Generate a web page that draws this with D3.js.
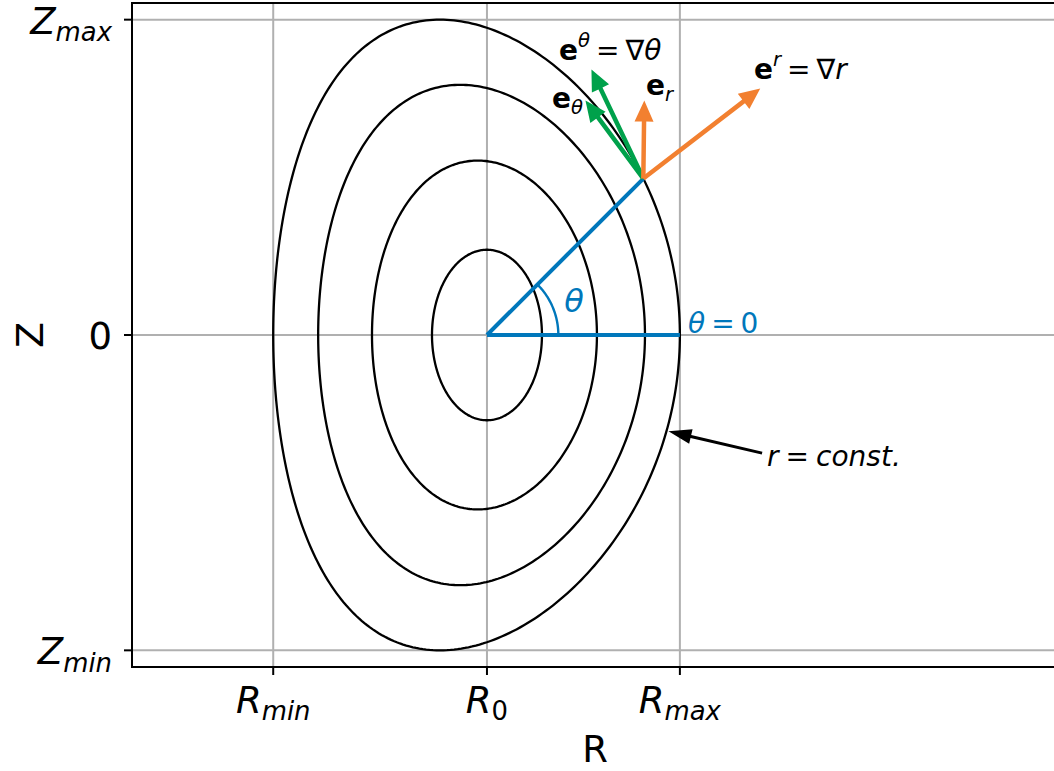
<!DOCTYPE html>
<html>
<head>
<meta charset="utf-8">
<script src="https://cdn.jsdelivr.net/npm/d3@7"></script>
<style>
  body { margin: 0; background: #fff; }
  text { font-family: "DejaVu Sans", sans-serif; }
</style>
</head>
<body>
<svg id="chart" width="1054" height="771"></svg>
<script>
// ---- Flux-surface geometry (Miller-type parametrisation) ----
const majorRadius = 3.0;
const minorRadius    = [0.285, 0.583, 0.847, 1.054];
const elongation     = [1.55, 1.55, 1.53, 1.55];
const triangularity  = [0.0, 0.06, 0.13, 0.18];
const shafranovShift = [0.0, -0.013, -0.028, -0.054];

// geometric poloidal angle of the marked ray (degrees)
const rayAngleDeg = 45;
// radius of the angle arc (data units)
const arcRadius = 0.37;

// basis vectors at the marked point: (dR, dZ)
const vectorNames = ["eUpR", "eDownR", "eUpTheta", "eDownTheta"];
const vectorDR = [0.606, 0.005, -0.269, -0.300];
const vectorDZ = [0.466, 0.404, 0.565, 0.404];

// parameter angle on the outer surface pointed at by the "r = const." note
const noteTheta = -0.31;

const xTickLabels = ["R_min", "R_0", "R_max"];
const yTickLabels = ["Z_min", "0", "Z_max"];

// ---- colours ----
const BLUE = "#0077bb", ORANGE = "#f28030", GREEN = "#00a14b", GRID = "#b0b0b0";

const svg = d3.select("#chart");
const plot = { left: 132, right: 1058, top: 3, bottom: 667 };
const x = d3.scaleLinear().domain([1.16, 5.96]).range([plot.left, plot.right]);
const y = d3.scaleLinear().domain([-1.72, 1.72]).range([plot.bottom, plot.top]);

function surfacePoint(i, t) {
  const a = minorRadius[i], k = elongation[i];
  const d = Math.asin(triangularity[i]), s = shafranovShift[i];
  return [majorRadius + s + a * Math.cos(t + d * Math.sin(t)), k * a * Math.sin(t)];
}
const outer = minorRadius.length - 1;

// tick positions follow the outer surface extents
const xTicks = [surfacePoint(outer, Math.PI)[0], majorRadius, surfacePoint(outer, 0)[0]];
const yTicks = [-elongation[outer] * minorRadius[outer], 0, elongation[outer] * minorRadius[outer]];

svg.append("defs").append("clipPath").attr("id", "plotClip")
  .append("rect").attr("x", plot.left).attr("y", plot.top)
  .attr("width", plot.right - plot.left).attr("height", plot.bottom - plot.top);

const g = svg.append("g").attr("clip-path", "url(#plotClip)");

// grid
g.selectAll("line.gx").data(xTicks).join("line").attr("class", "gx")
  .attr("x1", d => x(d)).attr("x2", d => x(d))
  .attr("y1", plot.top).attr("y2", plot.bottom)
  .attr("stroke", GRID).attr("stroke-width", 2);
g.selectAll("line.gy").data(yTicks).join("line").attr("class", "gy")
  .attr("y1", d => y(d)).attr("y2", d => y(d))
  .attr("x1", plot.left).attr("x2", plot.right)
  .attr("stroke", GRID).attr("stroke-width", 2);

// flux surfaces
const line = d3.line().x(p => x(p[0])).y(p => y(p[1]));
const thetaGrid = d3.range(0, 361).map(k => k * 2 * Math.PI / 360);
g.selectAll("path.surf").data(minorRadius.map((_, i) => i)).join("path")
  .attr("class", "surf")
  .attr("d", i => line(thetaGrid.map(t => surfacePoint(i, t))) + "Z")
  .attr("fill", "none").attr("stroke", "#000").attr("stroke-width", 2.3);

// intersection of the ray with the outer surface
function rayHit(i, ang) {
  let lo = 0, hi = Math.PI;
  for (let n = 0; n < 60; n++) {
    const m = (lo + hi) / 2;
    const [R, Z] = surfacePoint(i, m);
    if (Math.atan2(Z, R - majorRadius) < ang) lo = m; else hi = m;
  }
  return surfacePoint(i, (lo + hi) / 2);
}
const rayAng = rayAngleDeg * Math.PI / 180;
const P = rayHit(outer, rayAng);

// theta = 0 line and ray
g.append("line")
  .attr("x1", x(majorRadius)).attr("y1", y(0))
  .attr("x2", x(xTicks[2])).attr("y2", y(0))
  .attr("stroke", BLUE).attr("stroke-width", 4);
g.append("line")
  .attr("x1", x(majorRadius)).attr("y1", y(0))
  .attr("x2", x(P[0])).attr("y2", y(P[1]))
  .attr("stroke", BLUE).attr("stroke-width", 4);
// angle arc
const arcPts = d3.range(0, 51).map(k => {
  const a = rayAng * k / 50;
  return [majorRadius + arcRadius * Math.cos(a), arcRadius * Math.sin(a)];
});
g.append("path").attr("d", line(arcPts))
  .attr("fill", "none").attr("stroke", BLUE).attr("stroke-width", 2.4);

// arrow helper (pixel space polygon)
function arrowPoly(x0, y0, x1, y1, sw, hw, hl) {
  const dx = x1 - x0, dy = y1 - y0, L = Math.hypot(dx, dy);
  const ux = dx / L, uy = dy / L, nx = -uy, ny = ux;
  const bx = x1 - ux * hl, by = y1 - uy * hl;
  return [
    [x0 + nx * sw / 2, y0 + ny * sw / 2], [bx + nx * sw / 2, by + ny * sw / 2],
    [bx + nx * hw / 2, by + ny * hw / 2], [x1, y1],
    [bx - nx * hw / 2, by - ny * hw / 2], [bx - nx * sw / 2, by - ny * sw / 2],
    [x0 - nx * sw / 2, y0 - ny * sw / 2]
  ];
}
const vecColor = { eUpR: ORANGE, eDownR: ORANGE, eUpTheta: GREEN, eDownTheta: GREEN };
const drawOrder = [3, 2, 1, 0];
g.selectAll("polygon.vec").data(drawOrder).join("polygon").attr("class", "vec")
  .attr("points", i => arrowPoly(x(P[0]), y(P[1]),
      x(P[0] + vectorDR[i]), y(P[1] + vectorDZ[i]), 4.5, 19, 21).join(" "))
  .attr("fill", i => vecColor[vectorNames[i]]);

// annotation arrow for r = const.
const noteTarget = surfacePoint(outer, noteTheta);
const noteTextPos = [4.452, -0.674];
svg.append("polygon")
  .attr("points", arrowPoly(x(noteTextPos[0]) - 5, y(noteTextPos[1]) - 12,
      x(noteTarget[0]) + 2, y(noteTarget[1]), 3, 15, 23).join(" "))
  .attr("fill", "#000");

// spines
const axes = svg.append("g").attr("stroke", "#000").attr("stroke-width", 2).attr("stroke-linecap", "square");
axes.append("line").attr("x1", plot.left).attr("x2", plot.left).attr("y1", plot.top).attr("y2", plot.bottom);
axes.append("line").attr("x1", plot.left).attr("x2", plot.right).attr("y1", plot.top).attr("y2", plot.top);
axes.append("line").attr("x1", plot.left).attr("x2", plot.right).attr("y1", plot.bottom).attr("y2", plot.bottom);
axes.append("line").attr("x1", plot.right).attr("x2", plot.right).attr("y1", plot.top).attr("y2", plot.bottom);
// ticks
axes.selectAll("line.tx").data(xTicks).join("line").attr("class", "tx")
  .attr("x1", d => x(d)).attr("x2", d => x(d)).attr("y1", plot.bottom).attr("y2", plot.bottom + 8)
  .attr("stroke-linecap", "butt");
axes.selectAll("line.ty").data(yTicks).join("line").attr("class", "ty")
  .attr("y1", d => y(d)).attr("y2", d => y(d)).attr("x1", plot.left - 8).attr("x2", plot.left)
  .attr("stroke-linecap", "butt");

// mathtext-like label builder
function mathLabel(px, py, parts, size, color, anchor) {
  const t = svg.append("text").attr("x", px).attr("y", py)
    .attr("font-size", size).attr("fill", color || "#000")
    .attr("text-anchor", anchor || "start");
  let off = 0;
  parts.forEach(p => {
    const ts = t.append("tspan").text(p.t);
    if (p.i) ts.attr("font-style", "italic");
    if (p.b) ts.attr("font-weight", "bold");
    let target = 0;
    if (p.sup) target = -0.45 * size;
    if (p.sub) target = 0.2 * size;
    if (p.sup || p.sub) ts.attr("font-size", size * 0.7);
    const dy = target - off;
    if (dy !== 0) ts.attr("dy", dy);
    off = target;
    if (p.dx) ts.attr("dx", p.dx);
  });
  return t;
}
function tickParts(lbl) {
  const [base, sub] = lbl.split("_");
  if (sub === undefined) return [{ t: base }];
  return [{ t: base, i: true }, { t: sub, i: !/^\d+$/.test(sub), sub: true }];
}

const TICK = 37;
xTicks.forEach((v, k) => mathLabel(x(v), 713, tickParts(xTickLabels[k]), TICK, "#000", "middle"));
yTicks.forEach((v, k) => mathLabel(112, y(v) + 14, tickParts(yTickLabels[k]), TICK, "#000", "end"));

// axis labels
svg.append("text").attr("x", (plot.left + plot.right) / 2).attr("y", 762)
  .attr("text-anchor", "middle").attr("font-size", 37).text("R");
svg.append("text").attr("transform", `translate(43,${(plot.top + plot.bottom) / 2}) rotate(-90)`)
  .attr("text-anchor", "middle").attr("font-size", 38).text("Z");

// annotations
const A = 28;
mathLabel(688, 333, [{ t: "θ", i: true }, { t: "=", dx: 6 }, { t: "0", dx: 6 }], A, BLUE);
mathLabel(574, 312, [{ t: "θ", i: true }], 32, BLUE, "middle");
mathLabel(559, 60, [{ t: "e", b: true }, { t: "θ", i: true, sup: true },
  { t: "=", dx: 6 }, { t: "∇", dx: 6 }, { t: "θ", i: true }], A);
mathLabel(552, 108, [{ t: "e", b: true }, { t: "θ", i: true, sub: true }], A);
mathLabel(646, 95, [{ t: "e", b: true }, { t: "r", i: true, sub: true }], A);
mathLabel(754, 79, [{ t: "e", b: true }, { t: "r", i: true, sup: true },
  { t: "=", dx: 6 }, { t: "∇", dx: 6 }, { t: "r", i: true }], A);
mathLabel(x(noteTextPos[0]), y(noteTextPos[1]) + 1,
  [{ t: "r", i: true }, { t: "=", dx: 7 }, { t: "const.", i: true, dx: 7 }], A);
</script>
</body>
</html>
